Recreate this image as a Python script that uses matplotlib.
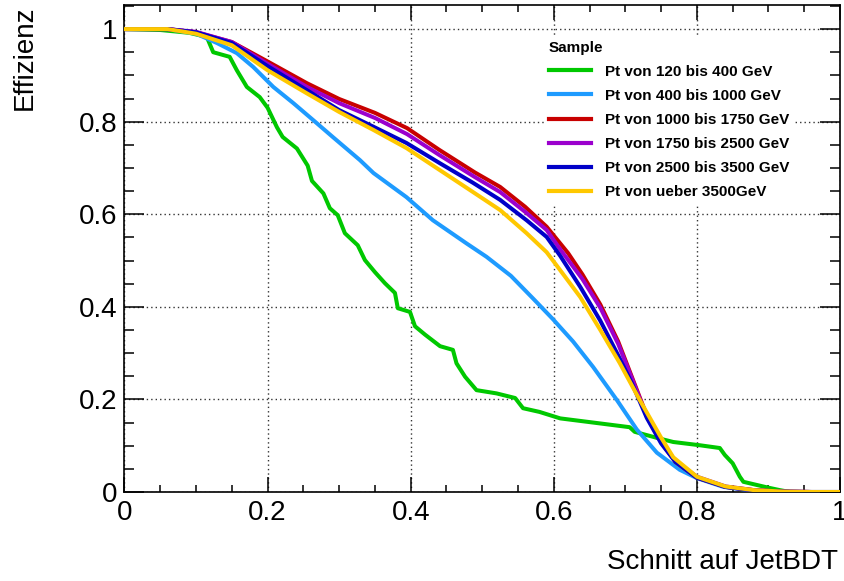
import matplotlib
matplotlib.use("Agg")
import matplotlib.pyplot as plt
from matplotlib.ticker import MultipleLocator, FormatStrFormatter
from matplotlib.lines import Line2D

plt.rcParams['font.family'] = ['Liberation Sans', 'DejaVu Sans']

# Efficiency vs. JetBDT cut for each Pt sample
x_120_400 = [0, 0.05, 0.09, 0.115, 0.124, 0.147, 0.157, 0.171, 0.189, 0.2, 0.213, 0.221,
             0.241, 0.256, 0.262, 0.278, 0.287, 0.298, 0.308, 0.326, 0.336, 0.35, 0.364,
             0.378, 0.382, 0.399, 0.406, 0.42, 0.441, 0.459, 0.464, 0.476, 0.492, 0.52,
             0.546, 0.557, 0.58, 0.609, 0.65, 0.706, 0.713, 0.744, 0.767, 0.804, 0.832,
             0.839, 0.85, 0.86, 0.865, 0.898, 0.916, 0.93, 1.0]
eff_120_400 = [1.0, 0.998, 0.992, 0.983, 0.95, 0.94, 0.911, 0.875, 0.853, 0.83, 0.788, 0.767,
               0.742, 0.705, 0.672, 0.645, 0.613, 0.598, 0.559, 0.533, 0.501, 0.475, 0.451,
               0.43, 0.397, 0.389, 0.358, 0.34, 0.315, 0.307, 0.278, 0.249, 0.22, 0.213,
               0.203, 0.181, 0.173, 0.159, 0.151, 0.14, 0.13, 0.117, 0.108, 0.101, 0.095,
               0.08, 0.062, 0.033, 0.022, 0.01, 0.004, 0.0, 0.0]

x_400_1000 = [0, 0.06, 0.1, 0.129, 0.157, 0.18, 0.208, 0.236, 0.264, 0.291, 0.329, 0.348,
              0.394, 0.431, 0.478, 0.506, 0.54, 0.571, 0.599, 0.627, 0.655, 0.688, 0.716,
              0.744, 0.776, 0.8, 0.837, 0.884, 0.92, 1.0]
eff_400_1000 = [1.0, 1.0, 0.99, 0.97, 0.948, 0.918, 0.875, 0.84, 0.803, 0.767, 0.717, 0.689,
                0.637, 0.587, 0.537, 0.508, 0.467, 0.418, 0.373, 0.325, 0.27, 0.199, 0.135,
                0.085, 0.048, 0.03, 0.011, 0.002, 0.0, 0.0]

x_1000_1750 = [0, 0.06, 0.1, 0.15, 0.2, 0.255, 0.3, 0.35, 0.395, 0.44, 0.49, 0.525, 0.56,
               0.59, 0.62, 0.64, 0.665, 0.69, 0.71, 0.73, 0.75, 0.77, 0.8, 0.84, 0.88,
               0.92, 0.96, 1.0]
eff_1000_1750 = [1.0, 1.0, 0.993, 0.972, 0.93, 0.883, 0.849, 0.819, 0.786, 0.739, 0.69, 0.659,
                 0.616, 0.573, 0.516, 0.47, 0.405, 0.325, 0.245, 0.165, 0.108, 0.065, 0.031,
                 0.011, 0.004, 0.001, 0.0, 0.0]

x_1750_2500 = [0, 0.06, 0.1, 0.15, 0.2, 0.255, 0.3, 0.35, 0.395, 0.44, 0.49, 0.525, 0.56,
               0.59, 0.61, 0.64, 0.665, 0.69, 0.71, 0.73, 0.75, 0.77, 0.8, 0.84, 0.88,
               0.92, 0.96, 1.0]
eff_1750_2500 = [1.0, 1.0, 0.994, 0.972, 0.925, 0.875, 0.84, 0.808, 0.773, 0.728, 0.68, 0.648,
                 0.605, 0.566, 0.522, 0.46, 0.398, 0.32, 0.242, 0.163, 0.108, 0.067, 0.033,
                 0.012, 0.004, 0.001, 0.0, 0.0]

x_2500_3500 = [0, 0.06, 0.1, 0.15, 0.2, 0.255, 0.3, 0.348, 0.394, 0.441, 0.487, 0.525, 0.562,
               0.59, 0.609, 0.637, 0.665, 0.69, 0.71, 0.73, 0.75, 0.77, 0.8, 0.84, 0.88,
               0.92, 0.96, 1.0]
eff_2500_3500 = [1.0, 1.0, 0.993, 0.97, 0.92, 0.868, 0.825, 0.789, 0.754, 0.71, 0.668, 0.631,
                 0.587, 0.551, 0.51, 0.443, 0.37, 0.295, 0.232, 0.16, 0.105, 0.065, 0.031,
                 0.011, 0.003, 0.001, 0.0, 0.0]

x_3500 = [0, 0.06, 0.1, 0.15, 0.2, 0.255, 0.3, 0.348, 0.394, 0.441, 0.487, 0.525, 0.562,
          0.59, 0.609, 0.637, 0.665, 0.692, 0.72, 0.749, 0.767, 0.8, 0.84, 0.88, 0.92,
          0.96, 1.0]
eff_3500 = [1.0, 1.0, 0.99, 0.965, 0.911, 0.861, 0.821, 0.782, 0.743, 0.695, 0.648, 0.609,
            0.559, 0.518, 0.479, 0.421, 0.35, 0.279, 0.199, 0.12, 0.075, 0.033, 0.012,
            0.004, 0.001, 0.0, 0.0]

labels = ["Pt von 120 bis 400 GeV", "Pt von 400 bis 1000 GeV", "Pt von 1000 bis 1750 GeV",
          "Pt von 1750 bis 2500 GeV", "Pt von 2500 bis 3500 GeV", "Pt von ueber 3500GeV"]
colors = ["#00c800", "#1e9bff", "#c80000", "#9b00cd", "#0000c8", "#ffc800"]
series = [(x_120_400, eff_120_400), (x_400_1000, eff_400_1000),
          (x_1000_1750, eff_1000_1750), (x_1750_2500, eff_1750_2500),
          (x_2500_3500, eff_2500_3500), (x_3500, eff_3500)]

fig = plt.figure(figsize=(8.45, 5.81), dpi=100)
ax = fig.add_axes([124.5 / 845, 89 / 581, 715.5 / 845, 487 / 581])

for (xs, ys), c in zip(series, colors):
    ax.plot(xs, ys, color=c, lw=2.9, solid_joinstyle='round', zorder=3)

ax.set_xlim(0, 1)
ax.set_ylim(0, 1.052)

ax.xaxis.set_major_locator(MultipleLocator(0.2))
ax.xaxis.set_minor_locator(MultipleLocator(0.05))
ax.yaxis.set_major_locator(MultipleLocator(0.2))
ax.yaxis.set_minor_locator(MultipleLocator(0.05))
ax.xaxis.set_major_formatter(FormatStrFormatter('%g'))
ax.yaxis.set_major_formatter(FormatStrFormatter('%g'))

ax.tick_params(which='both', direction='in', top=True, right=True, width=1.1,
               labelsize=20, color='black')
ax.tick_params(axis='x', which='major', length=10.8, pad=6)
ax.tick_params(axis='x', which='minor', length=5)
ax.tick_params(axis='y', which='major', length=14.4, pad=5)
ax.tick_params(axis='y', which='minor', length=7.2)

for s in ax.spines.values():
    s.set_linewidth(1.2)

ax.grid(True, which='major', color='#333333', lw=1.0, linestyle=(0, (1, 2.2)), zorder=1)

ax.text(0.997, -0.144, "Schnitt auf JetBDT", transform=ax.transAxes,
        ha='right', va='center', fontsize=20)
ax.text(-0.139, 1.0, "Effizienz", transform=ax.transAxes, rotation=90,
        ha='center', va='top', fontsize=20)

handles = [Line2D([0], [0], color=c, lw=3.0) for c in colors]
leg = ax.legend(handles, labels, title="Sample", loc='upper left',
                bbox_to_anchor=(0.587, 0.9363), frameon=True, fancybox=False,
                facecolor='white', edgecolor='none', framealpha=1.0,
                prop={'weight': 'bold', 'size': 11},
                title_fontproperties={'weight': 'bold', 'size': 11},
                alignment='left', handlelength=2.75, handletextpad=0.9,
                labelspacing=0.66, borderpad=0.3, borderaxespad=0.0)
leg.set_zorder(5)

fig.savefig("out.png", dpi=100)
